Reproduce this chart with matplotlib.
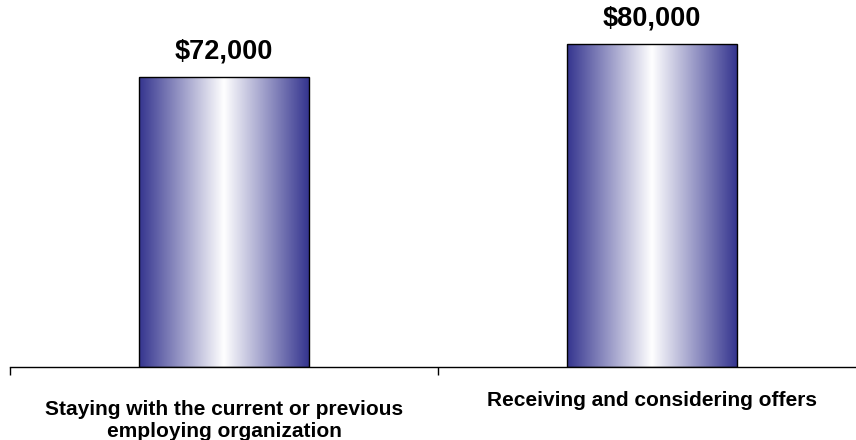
import numpy as np
import matplotlib
matplotlib.use("Agg")
import matplotlib.pyplot as plt
from matplotlib.colors import LinearSegmentedColormap

# Dados do gráfico
categories = ["Staying with the current or previous\nemploying organization",
              "Receiving and considering offers"]
values = [72000, 80000]
value_labels = ["$72,000", "$80,000"]

plt.rcParams["font.family"] = ["Liberation Sans", "DejaVu Sans"]

fig = plt.figure(figsize=(8.56, 4.4), dpi=100)
ax = fig.add_axes([10 / 856, 73 / 440, 856 / 856, 367 / 440])

x = np.arange(len(categories))
bars = ax.bar(x, values, width=0.397, color="none", edgecolor="black", linewidth=1, zorder=3)

# Gradiente azul -> branco -> azul dentro de cada barra
cmap = LinearSegmentedColormap.from_list("grad", ["#35358f", "#ffffff", "#35358f"])
grad = np.linspace(0, 1, 256).reshape(1, -1)
for b in bars:
    x0, y0 = b.get_x(), b.get_y()
    im = ax.imshow(grad, cmap=cmap, aspect="auto", extent=[x0, x0 + b.get_width(), y0, y0 + b.get_height()],
                   zorder=2, interpolation="bicubic")
    im.set_clip_path(b)

ax.set_xlim(-0.5, len(categories) - 0.5)
ax.set_ylim(0, 91000)

# Rótulos de valor
for xi, v, lab in zip(x, values, value_labels):
    ax.annotate(lab, (xi, v), xytext=(0, 9), textcoords="offset points", ha="center", va="bottom",
                fontsize=19.5, fontweight="bold")

# Eixo x: só a linha de baixo, ticks entre as categorias
for s in ["top", "right", "left"]:
    ax.spines[s].set_visible(False)
ax.spines["bottom"].set_linewidth(1)
ax.set_yticks([])
ax.set_xticks(np.arange(len(categories) + 1) - 0.5)
ax.set_xticklabels([])
ax.tick_params(axis="x", direction="out", length=6, width=1)

offsets = [-24, -17]
for xi, cat, off in zip(x, categories, offsets):
    ax.annotate(cat, (xi, 0), xytext=(0, off), textcoords="offset points", ha="center", va="top",
                fontsize=15, fontweight="bold", linespacing=1.15, annotation_clip=False)

fig.savefig("out.png", dpi=100)
